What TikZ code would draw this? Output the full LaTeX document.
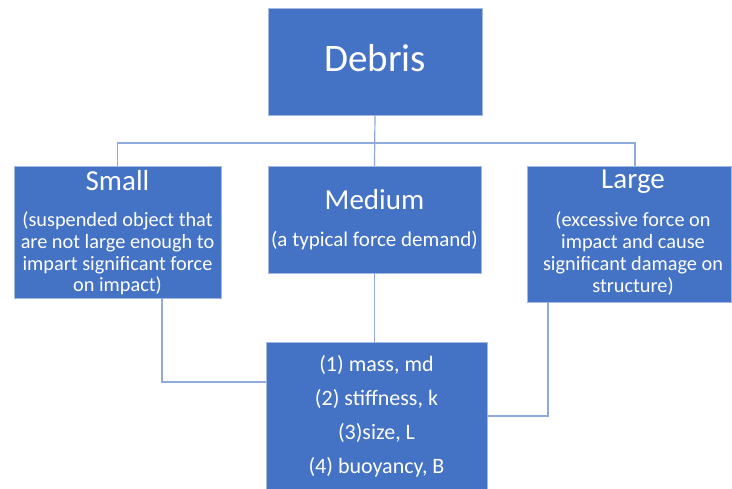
\documentclass[tikz,border=0pt]{standalone}
\usepackage{fontspec}
\setmainfont{Carlito}
\begin{document}
\begin{tikzpicture}[x=1pt,y=-1pt,
  box/.style={draw=boxline,line width=0.8pt,fill=boxblue,inner sep=0pt,outer sep=0pt},
  conn/.style={draw=connblue,line width=1.2pt},
  title/.style={text=white,anchor=base,inner sep=0pt,font=\fontsize{29}{34}\selectfont},
  desc/.style={text=white,anchor=base,inner sep=0pt,font=\fontsize{20.3}{24}\selectfont},
  item/.style={text=white,anchor=base,inner sep=0pt,font=\fontsize{22}{26}\selectfont}]
\definecolor{boxblue}{HTML}{4472C4}
\definecolor{boxline}{HTML}{A4B8E0}
\definecolor{connblue}{HTML}{8FAADC}
\useasboundingbox (0,0) rectangle (732,489);
\fill[white] (0,0) rectangle (732,489);
% boxes
\node[box,minimum width=214pt,minimum height=107pt] (debris) at (375,61.5) {};
\node[box,minimum width=207pt,minimum height=132pt] (small) at (117.5,232) {};
\node[box,minimum width=213pt,minimum height=107pt] (medium) at (374.5,219.5) {};
\node[box,minimum width=204pt,minimum height=136pt] (large) at (629,234) {};
\node[box,minimum width=221pt,minimum height=150pt] (bottom) at (376.5,417) {};
% connectors
\coordinate (bus) at (375,143);
\coordinate (sc) at (162,382);
\coordinate (lc) at (548,416);
\draw[conn] (debris.south) -- (medium.north);
\draw[conn] (small.north) |- (bus) -| ([xshift=6pt]large.north);
\draw[conn] (medium.south) -- (bottom.north -| medium.south);
\draw[conn] (small.south -| sc) |- (bottom.west |- sc);
\draw[conn] (large.south -| lc) |- (bottom.east |- lc);
% texts
\node[text=white,anchor=base,inner sep=0pt,font=\fontsize{39}{46}\selectfont] (tdeb) at (375,72) {Debris};
\node[title] (tsmall) at (117.5,191) {Small};
\node[desc] (ds1) at (117.5,227) {(suspended object that};
\node[desc] (ds2) at (117.5,249) {are not large enough to};
\node[desc] (ds3) at (117.5,270.5) {impart significant force};
\node[desc] (ds4) at (117.5,292) {on impact)};
\node[title] (tmed) at (374.5,210) {Medium};
\node[desc,font=\fontsize{21}{25}\selectfont] (dm1) at (374.5,247) {(a typical force demand)};
\node[title] (tlarge) at (633,189) {Large};
\node[desc] (dl1) at (633,227) {(excessive force on};
\node[desc] (dl2) at (633,249) {impact and cause};
\node[desc] (dl3) at (633,270.5) {significant damage on};
\node[desc] (dl4) at (633,293) {structure)};
\node[item] (b1) at (376.5,372) {(1) mass, md};
\node[item] (b2) at (376.5,406) {(2) stiffness, k};
\node[item] (b3) at (376.5,440) {(3)size, L};
\node[item] (b4) at (376.5,473) {(4) buoyancy, B};
\end{tikzpicture}
\end{document}
